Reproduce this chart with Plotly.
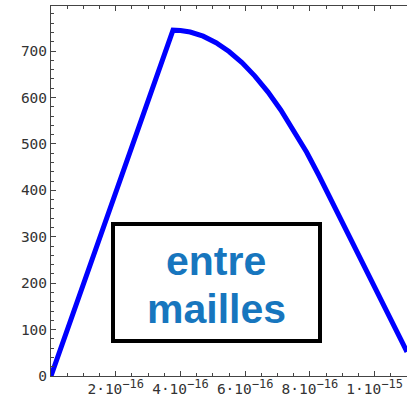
import plotly.graph_objects as go

# data
x_vals = [0, 0.377e-15, 0.40e-15, 0.43e-15, 0.47e-15, 0.51e-15, 0.55e-15, 0.59e-15,
          0.63e-15, 0.67e-15, 0.71e-15, 0.75e-15, 0.79e-15, 0.827e-15, 0.87e-15,
          0.92e-15, 0.97e-15, 1.02e-15, 1.06e-15, 1.10e-15]
y_vals = [0, 745, 744, 741, 732, 718, 699, 675, 646, 612, 573, 529, 482, 433, 373,
          302, 231, 161, 105, 52]

x_tick_vals = [2e-16, 4e-16, 6e-16, 8e-16, 1e-15]
x_tick_mant = ["2", "4", "6", "8", "1"]
x_tick_exp = ["−16", "−16", "−16", "−16", "−15"]
y_tick_vals = [0, 100, 200, 300, 400, 500, 600, 700]
y_tick_text = ["0", "100", "200", "300", "400", "500", "600", "700"]

label_lines = ["entre", "mailles"]

x_tick_text = [m + "·10<sup><span style='font-size:12px'>" + e + "</span></sup>"
               for m, e in zip(x_tick_mant, x_tick_exp)]

fig = go.Figure()
fig.add_trace(go.Scatter(x=x_vals, y=y_vals, mode="lines",
                         line=dict(color="#0000ff", width=5),
                         hoverinfo="skip"))

W, H = 407, 404
ml, mr, mt, mb = 51, 0, 6, 28
tickfont = dict(family="DejaVu Sans Mono, monospace", size=14.5, color="#333333")
fig.update_layout(
    width=W, height=H,
    margin=dict(l=ml, r=mr, t=mt, b=mb, pad=0),
    paper_bgcolor="white", plot_bgcolor="white",
    showlegend=False,
    font=tickfont,
)
fig.update_xaxes(
    range=[0, 1.1e-15], showgrid=False, zeroline=False,
    showline=True, linecolor="#444444", linewidth=1, mirror="ticks",
    ticks="inside", ticklen=5, tickcolor="#444444", tickwidth=1,
    tickvals=x_tick_vals, ticktext=x_tick_text,
    minor=dict(dtick=5e-17, tick0=0, ticks="inside", ticklen=3, tickcolor="#444444", showgrid=False),
    tickfont=tickfont,
)
fig.update_yaxes(
    range=[0, 797], showgrid=False, zeroline=False,
    showline=True, linecolor="#444444", linewidth=1,
    ticks="inside", ticklen=5, tickcolor="#444444", tickwidth=1,
    tickvals=y_tick_vals, ticktext=y_tick_text,
    minor=dict(dtick=20, tick0=0, ticks="inside", ticklen=3, tickcolor="#444444", showgrid=False),
    tickfont=tickfont,
)

pw, ph = W - ml - mr, H - mt - mb
def px_x(p): return (p - ml) / pw
def px_y(p): return 1 - (p - mt) / ph

fig.add_shape(type="rect", xref="paper", yref="paper",
              x0=px_x(113), x1=px_x(320), y0=px_y(341), y1=px_y(224),
              line=dict(color="black", width=4), fillcolor="white", layer="above")
for txt, yc in zip(label_lines, [261, 309]):
    fig.add_annotation(xref="paper", yref="paper", x=px_x(216), y=px_y(yc),
                       text="<b>" + txt + "</b>", showarrow=False,
                       font=dict(family="Liberation Sans, Arial, sans-serif", size=41, color="#1776be"),
                       xanchor="center", yanchor="middle")

fig.write_html("out.html")
